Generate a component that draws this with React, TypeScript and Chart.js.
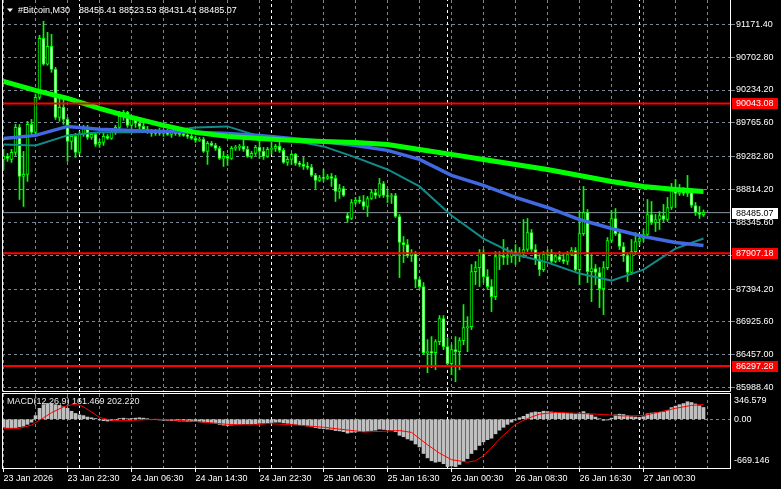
import React, { useEffect, useRef } from 'react';
import { Chart, registerables } from 'chart.js';

Chart.register(...registerables);

const FONT = "'Liberation Sans', Arial, sans-serif";

// ---------- data ----------
const SYMBOL = '#Bitcoin,M30';

const OPEN = [
  89244, 89287, 89244, 89344, 89701, 89001, 89030, 89744, 89630, 90130,
  90972, 90601, 90858, 90529, 89844, 89987, 89815, 89501, 89573, 89344,
  89601, 89701, 89558, 89601, 89458, 89487, 89573, 89544, 89630, 89701,
  89858, 89915, 89730, 89815, 89758, 89715, 89673, 89644, 89615, 89644,
  89615, 89630, 89601, 89630, 89615, 89601, 89587, 89573, 89544, 89516,
  89530, 89358, 89473, 89444, 89401, 89258, 89287, 89258, 89401, 89416,
  89430, 89387, 89287, 89330, 89416, 89358, 89287, 89387, 89401, 89430,
  89373, 89201, 89244, 89316, 89187, 89173, 89144, 89130, 89016, 88944,
  88987, 88973, 89001, 88973, 88787, 88830, 88445, 88402, 88630, 88659,
  88644, 88573, 88687, 88773, 88730, 88901, 88730, 88716, 88730, 88430,
  88059, 88030, 87873, 87902, 87531, 87431, 86488, 86502, 86488, 86645,
  86974, 86574, 86331, 86531, 86502, 86660, 86845, 86859, 87645, 87702,
  87916, 87573, 87431, 87288, 87859, 87873, 87845, 87859, 87930, 87873,
  87916, 87959, 88202, 87959, 87816, 87673, 87888, 87916, 87788, 87859,
  87816, 87788, 87888, 87945, 87673, 88187, 88487, 87645, 87688, 87631,
  87402, 87702, 88088, 88402, 88187, 88002, 87873, 87631, 87930, 88073,
  88116, 88173, 88459, 88345, 88387, 88445, 88387, 88559, 88802, 88759,
  88787, 88759, 88787, 88587, 88487, 88456.41,
];
const HIGH = [
  89387, 89330, 89387, 89744, 89744, 89358, 89787, 89815, 90172, 91015,
  91215, 91058, 91029, 90558, 90144, 90101, 89844, 89601, 89615, 89644,
  89730, 89730, 89630, 89630, 89530, 89615, 89601, 89673, 89730, 89930,
  89944, 89930, 89844, 89844, 89815, 89815, 89715, 89673, 89673, 89687,
  89673, 89673, 89658, 89673, 89658, 89630, 89615, 89601, 89573, 89558,
  89558, 89501, 89501, 89473, 89430, 89358, 89316, 89430, 89444, 89458,
  89530, 89430, 89358, 89444, 89530, 89416, 89416, 89487, 89458, 89530,
  89401, 89287, 89330, 89330, 89216, 89273, 89201, 89173, 89044, 89016,
  89101, 89030, 89044, 89016, 88887, 88859, 88487, 88673, 88702, 88716,
  88730, 88716, 88816, 88816, 88973, 88930, 88816, 88759, 88759, 88459,
  88145, 88102, 87959, 87930, 87559, 87488, 86674, 86717, 86674, 87017,
  87017, 86702, 86602, 86717, 86702, 87174, 87002, 87745, 87788, 87959,
  87959, 87673, 87531, 87930, 87930, 88102, 87988, 87959, 88030, 87988,
  88387, 88402, 88245, 88030, 87888, 87930, 87959, 87959, 87888, 87930,
  87902, 87930, 87988, 87988, 88502, 88859, 88530, 87888, 87745, 87702,
  87788, 88130, 88516, 88544, 88245, 88059, 87916, 88102, 88202, 88159,
  88245, 88673, 88644, 88459, 88502, 88602, 88702, 88901, 88959, 88887,
  88844, 89016, 88830, 88630, 88573, 88523.53,
];
const LOW = [
  89101, 89216, 89201, 89301, 88673, 88573, 88930, 89587, 89573, 90101,
  90587, 90587, 90487, 89815, 89787, 89744, 89216, 89387, 89273, 89316,
  89573, 89530, 89530, 89430, 89416, 89444, 89530, 89530, 89601, 89673,
  89801, 89701, 89687, 89701, 89673, 89644, 89615, 89573, 89587, 89587,
  89573, 89587, 89558, 89587, 89573, 89573, 89544, 89530, 89487, 89501,
  89344, 89173, 89430, 89373, 89244, 89144, 89159, 89244, 89373, 89373,
  89358, 89273, 89258, 89301, 89258, 89244, 89273, 89316, 89358, 89344,
  89187, 89159, 89173, 89159, 89144, 89101, 89101, 89001, 88830, 88930,
  88930, 88959, 88859, 88644, 88687, 88716, 88345, 88387, 88602, 88616,
  88530, 88430, 88673, 88687, 88702, 88702, 88630, 88616, 88416, 87559,
  87773, 87845, 87788, 87416, 87388, 86460, 86203, 86274, 86245, 86602,
  86531, 86303, 86174, 86074, 86245, 86602, 86502, 86817, 87459, 87431,
  87488, 87388, 87074, 87245, 87673, 87745, 87745, 87773, 87745, 87788,
  87845, 87930, 87930, 87745, 87588, 87645, 87816, 87773, 87773, 87788,
  87759, 87745, 87873, 87645, 87459, 88159, 87488, 87216, 87459, 87131,
  87031, 87673, 88059, 88159, 87959, 87788, 87502, 87602, 87888, 88016,
  88073, 88145, 88316, 88216, 88245, 88359, 88359, 88530, 88559, 88730,
  88730, 88716, 88559, 88445, 88402, 88431.41,
];
const CLOSE = [
  89287, 89258, 89344, 89701, 89001, 89030, 89744, 89630, 90130, 90972,
  90601, 90858, 90529, 89844, 89987, 89815, 89501, 89573, 89344, 89601,
  89701, 89558, 89601, 89458, 89487, 89573, 89544, 89630, 89701, 89858,
  89915, 89730, 89815, 89758, 89715, 89673, 89644, 89615, 89644, 89615,
  89630, 89601, 89630, 89615, 89601, 89587, 89573, 89544, 89516, 89530,
  89358, 89473, 89444, 89401, 89258, 89287, 89258, 89401, 89416, 89430,
  89387, 89287, 89330, 89416, 89358, 89287, 89387, 89401, 89430, 89373,
  89201, 89244, 89316, 89187, 89173, 89144, 89130, 89016, 88944, 88987,
  88973, 89001, 88973, 88787, 88830, 88730, 88402, 88630, 88659, 88644,
  88573, 88687, 88773, 88730, 88901, 88730, 88716, 88730, 88430, 88059,
  88030, 87873, 87902, 87531, 87431, 86488, 86502, 86488, 86645, 86974,
  86574, 86331, 86531, 86502, 86660, 86845, 86859, 87645, 87702, 87916,
  87573, 87431, 87288, 87859, 87873, 87845, 87859, 87930, 87873, 87916,
  87959, 88202, 87959, 87816, 87673, 87888, 87916, 87788, 87859, 87816,
  87788, 87888, 87945, 87673, 88187, 88487, 87645, 87688, 87631, 87402,
  87702, 88088, 88402, 88187, 88002, 87873, 87631, 87930, 88073, 88116,
  88173, 88459, 88345, 88387, 88445, 88387, 88559, 88802, 88759, 88787,
  88759, 88787, 88587, 88487, 88459, 88485.07,
];

// moving averages, sampled at these bars
const MA_BARS = [0, 8, 16, 24, 32, 40, 48, 56, 64, 72, 80, 88, 96, 104, 112, 120, 128, 136, 144, 152, 160, 168, 175];
const MA_SLOW = [90358, 90230, 90115, 89972, 89844, 89730, 89630, 89573, 89544, 89516, 89501, 89487, 89458, 89387, 89316, 89244, 89173, 89101, 89016, 88930, 88859, 88816, 88787];
const MA_MID = [89544, 89587, 89715, 89673, 89658, 89644, 89630, 89615, 89587, 89544, 89501, 89444, 89373, 89244, 89016, 88873, 88702, 88559, 88387, 88259, 88145, 88059, 88016];
const MA_FAST = [89458, 89444, 89587, 89630, 89630, 89644, 89701, 89715, 89573, 89516, 89430, 89273, 89101, 88859, 88445, 88116, 87888, 87773, 87616, 87516, 87673, 87973, 88116];

const MACD_HIST = [
  -110, -115, -118, -115, -105, -95, -70, -40, 50, 150,
  200, 215, 220, 200, 190, 170, 150, 110, 80, 60,
  50, 30, 20, 10, -10, -20, -25, -20, -10, 10,
  15, 5, 10, 15, 20, 15, 5, -3, -5, -10,
  -15, -15, -20, -20, -25, -25, -30, -30, -30, -35,
  -40, -45, -50, -55, -70, -80, -85, -80, -75, -70,
  -65, -65, -65, -60, -55, -55, -50, -45, -40, -40,
  -50, -55, -60, -70, -75, -80, -90, -100, -115, -125,
  -130, -135, -140, -155, -160, -170, -190, -180, -175, -170,
  -170, -165, -155, -150, -135, -140, -145, -150, -170, -220,
  -240, -270, -290, -340, -380, -470, -530, -570, -590, -580,
  -610, -650, -640, -650, -620, -580, -540, -470, -420, -360,
  -310, -280, -260, -200, -150, -110, -70, -40, -10, 20,
  40, 70, 90, 100, 95, 110, 105, 100, 95, 90,
  85, 80, 80, 70, 85, 105, 80, 60, 30, 5,
  -15, -10, 15, 60, 70, 65, 50, 35, 30, 25,
  35, 75, 85, 90, 95, 100, 120, 160, 180, 200,
  215, 240, 230, 210, 185, 161.469,
];
const SIGNAL_BARS = [0, 4, 7, 10, 12, 15, 18, 20, 22, 24, 27, 30, 34, 38, 42, 48, 56, 62, 66, 72, 80, 88, 90, 95, 99, 102, 106, 109, 112, 116, 118, 120, 122, 124, 126, 128, 131, 134, 138, 144, 150, 155, 160, 164, 168, 172, 175];
const SIGNAL_VALUES = [-125, -125, -80, 20, 90, 170, 210, 170, 100, 25, -15, -20, -10, 0, -10, -30, -70, -80, -60, -75, -110, -160, -175, -165, -155, -180, -350, -465, -555, -590, -570, -500, -390, -270, -170, -70, 10, 70, 95, 80, 65, 45, 50, 100, 150, 190, 202.22];

const PRICE_TICKS = [91171.4, 90702.8, 90234.2, 89765.6, 89282.8, 88814.2, 88345.6, 87877.0, 87394.2, 86925.6, 86457.0, 85988.4];
const LEVELS = [90043.08, 87907.18, 86297.28];
const DAY_SEPARATORS = [19, 67, 111, 159];
const GRID_BARS = [0, 8, 16, 24, 32, 40, 48, 56, 64, 72, 80, 88, 96, 104, 112, 120, 128, 136, 144, 152, 160, 168, 176];
const TIME_LABEL_BARS = [0, 16, 32, 48, 64, 80, 96, 112, 128, 144, 160];
const TIME_LABELS = ['23 Jan 2026', '23 Jan 22:30', '24 Jan 06:30', '24 Jan 14:30', '24 Jan 22:30', '25 Jan 06:30', '25 Jan 16:30', '26 Jan 00:30', '26 Jan 08:30', '26 Jan 16:30', '27 Jan 00:30'];
const MACD_PARAMS = 'MACD(12,26,9)';
const MACD_MAX = 346.579;
const MACD_MIN = -669.146;

// ---------- scale ranges ----------
const X_MIN = -0.375;
const X_MAX = 181.875;
const PRICE_MIN = 85941.3;
const PRICE_MAX = 91518.0;

const GRID = '#7b8794';
const LIME = '#00ff00';

Chart.defaults.font.family = FONT;

const idx = OPEN.map((_, i) => i);
const last = OPEN.length - 1;

function vLine(x: number, yMin: number, yMax: number, order: number) {
  return {
    type: 'line' as const,
    data: [{ x, y: yMin }, { x, y: yMax }],
    borderColor: '#ffffff',
    borderWidth: 1,
    borderDash: [3, 3],
    pointRadius: 0,
    order,
  };
}

function xScale(showLabels: boolean) {
  return {
    type: 'linear',
    min: X_MIN,
    max: X_MAX,
    offset: false,
    afterBuildTicks: (s: any) => {
      s.ticks = GRID_BARS.map((v) => ({ value: v }));
    },
    afterFit: (s: any) => {
      s.height = showLabels ? 21 : 0;
      s.paddingLeft = 0;
      s.paddingRight = 0;
      s.paddingTop = 0;
      s.paddingBottom = 0;
    },
    grid: {
      color: GRID,
      lineWidth: 1,
      offset: false,
      drawTicks: showLabels,
      tickLength: 4,
      tickColor: (c: any) => (TIME_LABEL_BARS.includes(c.tick?.value) ? '#ffffff' : 'rgba(0,0,0,0)'),
    },
    border: { display: false, dash: [3, 3] },
    ticks: {
      display: showLabels,
      autoSkip: false,
      maxRotation: 0,
      minRotation: 0,
      align: 'start',
      padding: 1,
      color: '#ffffff',
      font: { size: 9, family: FONT },
      callback: (v: any) => {
        const k = TIME_LABEL_BARS.indexOf(Number(v));
        return k >= 0 ? TIME_LABELS[k] : '';
      },
    },
  };
}

const mainDecor = {
  id: 'mainDecor',
  afterDraw(chart: any) {
    const { ctx, chartArea: a, scales } = chart;
    const y = scales.y;
    ctx.save();
    ctx.strokeStyle = '#ffffff';
    ctx.lineWidth = 1;
    ctx.beginPath();
    ctx.moveTo(a.left + 0.5, a.top);
    ctx.lineTo(a.left + 0.5, a.bottom + 0.5);
    ctx.lineTo(a.right - 0.5, a.bottom + 0.5);
    ctx.lineTo(a.right - 0.5, a.top);
    ctx.stroke();

    ctx.font = `9px ${FONT}`;
    ctx.textBaseline = 'middle';
    ctx.textAlign = 'left';
    for (const l of LEVELS) {
      const py = Math.round(y.getPixelForValue(l));
      ctx.fillStyle = '#ff0000';
      ctx.fillRect(a.right + 1, py - 5, 46, 11);
      ctx.fillStyle = '#ffffff';
      ctx.fillText(l.toFixed(2), a.right + 5, py + 0.5);
    }
    const cp = Math.round(y.getPixelForValue(CLOSE[last]));
    ctx.fillStyle = '#ffffff';
    ctx.fillRect(a.right + 1, cp - 5, 46, 11);
    ctx.fillStyle = '#000000';
    ctx.fillText(CLOSE[last].toFixed(2), a.right + 5, cp + 0.5);

    // title
    ctx.fillStyle = '#ffffff';
    ctx.beginPath();
    ctx.moveTo(7, 8.5);
    ctx.lineTo(13, 8.5);
    ctx.lineTo(10, 12);
    ctx.closePath();
    ctx.fill();
    ctx.fillText(SYMBOL, 18, 10.5);
    const ohlc = [OPEN[last], HIGH[last], LOW[last], CLOSE[last]].map((v) => v.toFixed(2)).join(' ');
    ctx.fillText(ohlc, 79, 10.5);
    ctx.restore();
  },
};

const macdDecor = {
  id: 'macdDecor',
  beforeDatasetsDraw(chart: any) {
    const { ctx, chartArea: a } = chart;
    ctx.save();
    ctx.font = `9px ${FONT}`;
    ctx.textBaseline = 'middle';
    ctx.textAlign = 'left';
    ctx.fillStyle = '#e8e8e8';
    const txt = `${MACD_PARAMS} ${MACD_HIST[last].toFixed(3)} ${SIGNAL_VALUES[SIGNAL_VALUES.length - 1].toFixed(3)}`;
    ctx.fillText(txt, a.left + 5, a.top + 8);
    ctx.restore();
  },
  afterDraw(chart: any) {
    const { ctx, chartArea: a, scales } = chart;
    ctx.save();
    ctx.strokeStyle = '#ffffff';
    ctx.lineWidth = 1;
    ctx.strokeRect(a.left + 0.5, a.top - 0.5, a.right - a.left - 1, a.bottom - a.top + 1);
    ctx.font = `9px ${FONT}`;
    ctx.textBaseline = 'middle';
    ctx.textAlign = 'left';
    ctx.fillStyle = '#ffffff';
    ctx.fillText(MACD_MAX.toFixed(3), a.right + 3, a.top + 7);
    ctx.fillText((0).toFixed(2), a.right + 3, scales.y.getPixelForValue(0) + 0.5);
    ctx.fillText(MACD_MIN.toFixed(3), a.right + 3, a.bottom - 7);
    ctx.restore();
  },
};

export default function App() {
  const mainRef = useRef<HTMLCanvasElement>(null);
  const macdRef = useRef<HTMLCanvasElement>(null);

  useEffect(() => {
    const mainDatasets: any[] = [
      ...LEVELS.map((l) => ({
        type: 'line',
        data: [{ x: X_MIN, y: l }, { x: X_MAX, y: l }],
        borderColor: '#ff0000',
        borderWidth: 2,
        pointRadius: 0,
        order: 0,
      })),
      {
        type: 'line',
        data: MA_BARS.map((b, k) => ({ x: b, y: MA_SLOW[k] })),
        borderColor: LIME,
        borderWidth: 5,
        pointRadius: 0,
        order: 1,
      },
      {
        type: 'line',
        data: MA_BARS.map((b, k) => ({ x: b, y: MA_MID[k] })),
        borderColor: '#4169e1',
        borderWidth: 3.5,
        pointRadius: 0,
        order: 2,
      },
      {
        type: 'line',
        data: MA_BARS.map((b, k) => ({ x: b, y: MA_FAST[k] })),
        borderColor: '#118a8a',
        borderWidth: 2,
        pointRadius: 0,
        order: 3,
      },
      {
        type: 'bar',
        data: idx.map((i) => ({ x: i, y: [OPEN[i], CLOSE[i]] })),
        backgroundColor: idx.map((i) => (CLOSE[i] >= OPEN[i] ? '#000000' : '#ffffff')),
        borderColor: LIME,
        borderWidth: 1,
        borderSkipped: false,
        barThickness: 3,
        grouped: false,
        order: 4,
      },
      {
        type: 'bar',
        data: idx.map((i) => ({ x: i, y: [LOW[i], HIGH[i]] })),
        backgroundColor: LIME,
        borderWidth: 0,
        barThickness: 1,
        grouped: false,
        order: 5,
      },
      {
        type: 'line',
        data: [{ x: X_MIN, y: CLOSE[last] }, { x: X_MAX, y: CLOSE[last] }],
        borderColor: '#8c96a0',
        borderWidth: 1,
        pointRadius: 0,
        order: 6,
      },
      ...DAY_SEPARATORS.map((s) => vLine(s, PRICE_MIN, PRICE_MAX, 7)),
    ];

    const main = new Chart(mainRef.current as HTMLCanvasElement, {
      type: 'bar',
      data: { datasets: mainDatasets },
      options: {
        responsive: false,
        animation: false,
        devicePixelRatio: 1,
        events: [],
        layout: { padding: { left: 2, top: 0, right: 0, bottom: 1 } },
        plugins: { legend: { display: false }, tooltip: { enabled: false } },
        scales: {
          x: xScale(false) as any,
          y: {
            type: 'linear',
            position: 'right',
            min: PRICE_MIN,
            max: PRICE_MAX,
            afterBuildTicks: (s: any) => {
              s.ticks = PRICE_TICKS.map((v) => ({ value: v }));
            },
            afterFit: (s: any) => {
              s.width = 50;
              s.paddingTop = 0;
              s.paddingBottom = 0;
            },
            grid: { color: GRID, lineWidth: 1, drawTicks: true, tickLength: 4, tickColor: GRID },
            border: { display: false, dash: [3, 3] },
            ticks: {
              color: '#ffffff',
              padding: 1,
              autoSkip: false,
              font: { size: 9, family: FONT },
              callback: (v: any) => Number(v).toFixed(2),
            },
          },
        },
      } as any,
      plugins: [mainDecor],
    });

    const macdDatasets: any[] = [
      {
        type: 'line',
        data: SIGNAL_BARS.map((b, k) => ({ x: b, y: SIGNAL_VALUES[k] })),
        borderColor: '#ff0000',
        borderWidth: 1,
        pointRadius: 0,
        order: 0,
      },
      {
        type: 'bar',
        data: idx.map((i) => ({ x: i, y: MACD_HIST[i] })),
        backgroundColor: '#c0c0c0',
        borderWidth: 0,
        barThickness: 3,
        grouped: false,
        order: 1,
      },
      ...DAY_SEPARATORS.map((s) => vLine(s, MACD_MIN, MACD_MAX, 2)),
    ];

    const macd = new Chart(macdRef.current as HTMLCanvasElement, {
      type: 'bar',
      data: { datasets: macdDatasets },
      options: {
        responsive: false,
        animation: false,
        devicePixelRatio: 1,
        events: [],
        layout: { padding: { left: 2, top: 2, right: 0, bottom: 0 } },
        plugins: { legend: { display: false }, tooltip: { enabled: false } },
        scales: {
          x: xScale(true) as any,
          y: {
            type: 'linear',
            position: 'right',
            min: MACD_MIN,
            max: MACD_MAX,
            afterBuildTicks: (s: any) => {
              s.ticks = [{ value: 0 }];
            },
            afterFit: (s: any) => {
              s.width = 50;
              s.paddingTop = 0;
              s.paddingBottom = 0;
            },
            grid: { color: GRID, lineWidth: 1, drawTicks: false },
            border: { display: false, dash: [3, 3] },
            ticks: { display: false },
          },
        },
      } as any,
      plugins: [macdDecor],
    });

    return () => {
      main.destroy();
      macd.destroy();
    };
  }, []);

  return (
    <div style={{ position: 'fixed', left: 0, top: 0, width: 781, height: 489, background: '#000000', overflow: 'hidden' }}>
      <canvas ref={mainRef} width={781} height={392} style={{ position: 'absolute', left: 0, top: 0, width: 781, height: 392 }} />
      <canvas ref={macdRef} width={781} height={97} style={{ position: 'absolute', left: 0, top: 392, width: 781, height: 97 }} />
    </div>
  );
}
